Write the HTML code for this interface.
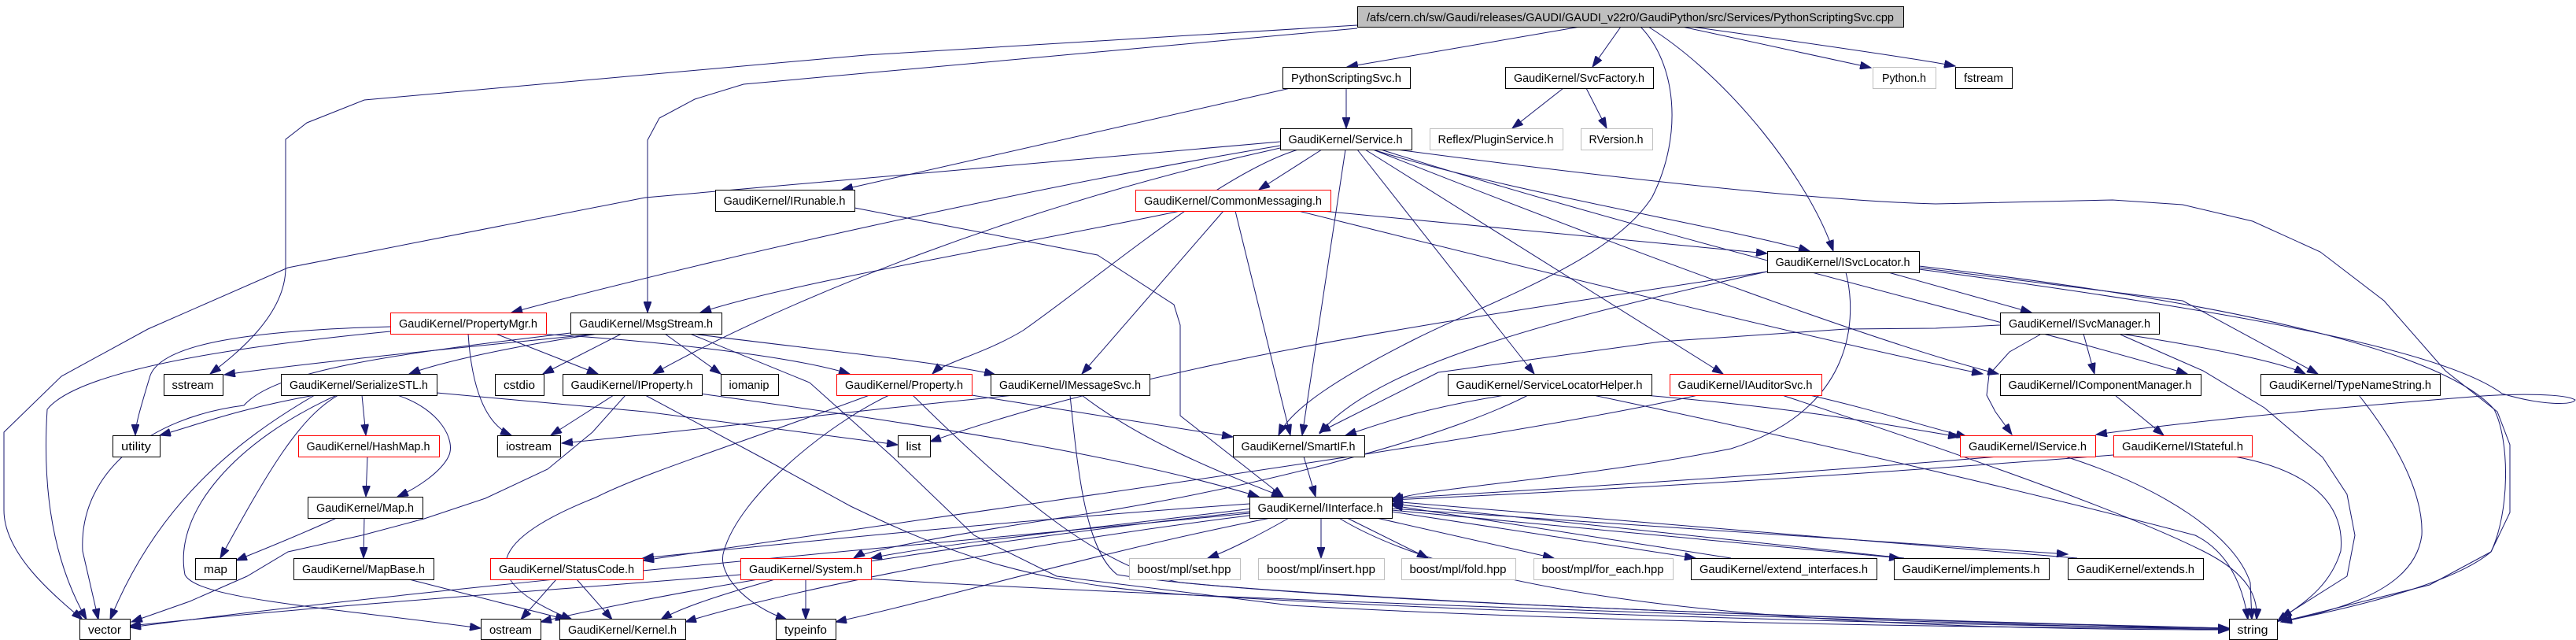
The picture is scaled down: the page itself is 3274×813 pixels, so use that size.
<!DOCTYPE html>
<html><head><meta charset="utf-8"><style>
html,body{margin:0;padding:0;background:#fff;}
svg{display:block;}
text{font-family:"Liberation Sans","DejaVu Sans",sans-serif;font-size:14.5px;fill:#000;}
.e{fill:none;stroke:#191970;stroke-width:1;}
.n{fill:#fff;stroke:#000;stroke-width:1;}
.r{fill:#fff;stroke:#ff0000;stroke-width:1;}
.g{fill:#fff;stroke:#bfbfbf;stroke-width:1;}
</style></head><body>
<svg width="3274" height="813" viewBox="0 0 3274 813" xmlns="http://www.w3.org/2000/svg">
<defs><marker id="a" markerWidth="15" markerHeight="10" refX="14" refY="5" orient="auto" markerUnits="userSpaceOnUse"><path d="M0,0 L14,5 L0,10 z" fill="#191970" stroke="#191970"/></marker></defs>
<g class="e" marker-end="url(#a)">
<path d="M2008,34 L1712,85"/>
<path d="M2060,34 L2024,85"/>
<path d="M2138,34 L2378,86"/>
<path d="M2150,34 C2300,55 2440,75 2485,84"/>
<path d="M1725,32 L1100,70 L463,127 L390,156 L363,177 L363,340 C363,400 300,450 267,475"/>
<path d="M1725,36 L945,107 L883,126 L838,150 L823,178 L823,397"/>
<path d="M2085,34 C2130,80 2140,170 2100,250 C2050,330 1900,380 1800,430 C1700,480 1640,520 1625,553"/>
<path d="M2095,34 C2200,100 2300,230 2330,319"/>
<path d="M1711,112 L1711,163"/>
<path d="M1640,112 L1070,241"/>
<path d="M1987,112 L1922,163"/>
<path d="M2016,112 L2042,163"/>
<path d="M1627,180 L820,251 L366,340 L188,418 L78,478 L5,549 L5,648 C5,700 60,750 105,787"/>
<path d="M1627,185 C1300,240 900,330 650,397"/>
<path d="M1627,188 C1300,260 1000,380 830,475"/>
<path d="M1650,190 C1550,220 1400,350 1300,420 C1250,450 1200,460 1185,475"/>
<path d="M1680,190 L1600,241"/>
<path d="M1710,190 L1655,553"/>
<path d="M1725,190 L1950,475"/>
<path d="M1735,190 L2190,475"/>
<path d="M1745,190 C1900,240 2200,290 2300,319"/>
<path d="M1755,190 C2100,300 2600,420 2780,475"/>
<path d="M1745,190 C2100,330 2400,440 2540,475"/>
<path d="M1760,188 C2000,220 2300,255 2460,259 L2685,254 L2774,260 L2863,281 L2949,320 L3030,382 L3108,471 L3174,523 L3190,565 L3190,651 L3166,701 L3088,743 L2899,790"/>
<path d="M1086,264 L1395,324 L1492,387 L1500,413 L1500,528 L1631,631"/>
<path d="M1500,268 C1300,310 1000,360 890,397"/>
<path d="M1555,268 L1375,475"/>
<path d="M1570,268 L1640,553"/>
<path d="M1680,268 L2246,322"/>
<path d="M1650,268 C1900,330 2300,430 2520,475"/>
<path d="M2246,345 C1900,400 1500,450 1182,561"/>
<path d="M2246,345 C2000,400 1750,460 1677,551"/>
<path d="M2346,346 C2360,400 2360,520 2200,570 C2000,610 1800,620 1769,636"/>
<path d="M2400,346 L2582,397"/>
<path d="M2439,340 L2774,382 L2946,475"/>
<path d="M2439,338 C2800,380 3100,440 3170,520 C3190,560 3190,650 3166,701 C3120,740 3000,770 2899,790"/>
<path d="M2439,342 C2800,390 3100,440 3180,500 C3230,515 3270,515 3273,508 C3260,500 3200,500 3155,503 C2900,523 2750,540 2664,552"/>
<path d="M760,424 C600,440 400,460 285,476"/>
<path d="M496,415 C300,420 200,440 190,480 C178,520 172,540 172,553"/>
<path d="M496,421 C300,440 100,470 60,520 C55,600 60,700 110,787"/>
<path d="M725,423 C500,450 350,470 310,515 C190,530 100,600 105,700 L125,787"/>
<path d="M595,424 C600,500 620,540 650,553"/>
<path d="M630,424 L760,475"/>
<path d="M680,424 C800,430 1000,450 1080,475"/>
<path d="M790,424 L690,475"/>
<path d="M760,424 C650,440 560,460 520,475"/>
<path d="M845,424 L916,475"/>
<path d="M880,424 C1000,440 1200,460 1265,476"/>
<path d="M877,424 L1029,486 L1134,580 L1238,680 L1343,732 L1640,769 C2000,790 2500,797 2833,799"/>
<path d="M2542,413 L2460,417 L2346,418 L2111,434 L1828,473 L1677,549"/>
<path d="M2593,425 L2554,447 L2528,476 L2525,502 L2536,523 L2557,552"/>
<path d="M2648,424 L2662,475"/>
<path d="M2695,424 C2800,440 2900,460 2930,475"/>
<path d="M2695,425 L2800,471 L2878,518 L2952,581 L2983,628 L2993,680 L2983,732 L2899,785"/>
<path d="M400,502 C300,520 250,540 203,553"/>
<path d="M460,502 L465,553"/>
<path d="M505,502 C560,520 580,560 570,580 C560,600 530,620 505,631"/>
<path d="M430,502 C380,530 340,600 280,709"/>
<path d="M400,502 C300,560 200,640 140,787"/>
<path d="M428,502 C300,560 220,650 235,730 C250,760 400,770 611,798"/>
<path d="M555,499 L820,523 L1141,565"/>
<path d="M780,502 L700,553"/>
<path d="M795,502 L753,549 L696,596 L617,633 L539,659 L460,680 L366,701 L314,732 L241,764 L167,790"/>
<path d="M890,500 C1100,530 1400,570 1600,631"/>
<path d="M820,502 L977,586 L1081,643 C1200,700 1300,740 1500,755 C1900,780 2500,795 2833,798"/>
<path d="M1105,502 C950,560 820,600 757,632 C610,690 610,740 727,787"/>
<path d="M1290,502 C1100,520 900,545 714,563"/>
<path d="M1130,502 C1050,540 940,630 920,700 C910,730 950,770 1000,787"/>
<path d="M1160,502 C1300,640 1400,720 1500,740 C1800,770 2500,790 2833,798"/>
<path d="M1235,502 L1567,555"/>
<path d="M1375,502 C1450,560 1550,600 1630,631"/>
<path d="M1360,502 C1370,600 1380,700 1420,730 C1600,760 2400,790 2833,798"/>
<path d="M1913,502 C1800,520 1750,540 1710,553"/>
<path d="M1942,502 C1850,550 1640,610 1400,650 C1200,680 1100,700 1085,709"/>
<path d="M2090,502 C2300,520 2400,540 2490,555"/>
<path d="M2025,502 C2300,560 2600,630 2790,680 C2830,700 2850,740 2857,787"/>
<path d="M2300,502 C2380,520 2440,540 2500,555"/>
<path d="M2265,502 C2500,580 2700,650 2800,700 C2860,730 2870,760 2868,787"/>
<path d="M2158,502 C1900,560 1300,640 817,712"/>
<path d="M2688,502 L2750,553"/>
<path d="M2998,502 C3060,580 3080,640 3078,680 C3070,740 3000,770 2899,790"/>
<path d="M2540,580 C2300,600 2000,620 1769,633"/>
<path d="M2686,578 C2400,600 2100,620 1769,635"/>
<path d="M2625,580 C2750,620 2840,680 2860,740 L2862,787"/>
<path d="M2840,580 C2950,600 2980,650 2975,700 C2960,750 2920,770 2894,790"/>
<path d="M430,657 C380,680 330,700 300,712"/>
<path d="M463,657 L462,709"/>
<path d="M520,736 L720,787"/>
<path d="M467,580 L465,631"/>
<path d="M1657,580 L1672,631"/>
<path d="M1588,640 C1300,660 1000,690 817,709"/>
<path d="M1600,645 C1400,670 1200,690 1107,709"/>
<path d="M1640,657 C1600,680 1560,700 1535,709"/>
<path d="M1679,657 L1679,709"/>
<path d="M1710,657 L1815,709"/>
<path d="M1745,657 L1975,709"/>
<path d="M1769,650 L2155,709"/>
<path d="M2200,709 L1769,642"/>
<path d="M1769,648 L2415,709"/>
<path d="M2420,709 L1769,640"/>
<path d="M1769,646 L2628,704"/>
<path d="M2640,709 L1769,637"/>
<path d="M1620,657 C1400,700 1200,760 1062,790"/>
<path d="M1588,650 C1300,680 900,740 687,790"/>
<path d="M1595,654 C1300,690 1000,750 871,790"/>
<path d="M1588,652 C1200,690 600,740 165,797"/>
<path d="M1700,657 C1900,780 2400,800 2833,800"/>
<path d="M707,736 L662,787"/>
<path d="M733,736 L778,787"/>
<path d="M1024,736 L1024,787"/>
<path d="M985,736 C900,760 860,775 840,787"/>
<path d="M1100,735 C1500,760 2400,790 2833,800"/>
<path d="M941,730 C700,750 400,770 165,795"/>
</g>
<g>
<rect x="1725.5" y="8.5" width="694" height="26" fill="#bfbfbf" stroke="#000"/>
<text x="2072" y="27" text-anchor="middle" textLength="670" lengthAdjust="spacingAndGlyphs">/afs/cern.ch/sw/Gaudi/releases/GAUDI/GAUDI_v22r0/GaudiPython/src/Services/PythonScriptingSvc.cpp</text>
</g>
<g id="nodes">
<rect class="n" x="1630.5" y="85.5" width="162" height="27"/><text x="1711" y="104" text-anchor="middle" textLength="140" lengthAdjust="spacingAndGlyphs">PythonScriptingSvc.h</text>
<rect class="n" x="1913.5" y="85.5" width="188" height="27"/><text x="2007" y="104" text-anchor="middle" textLength="166" lengthAdjust="spacingAndGlyphs">GaudiKernel/SvcFactory.h</text>
<rect class="g" x="2380.5" y="85.5" width="80" height="27"/><text x="2420" y="104" text-anchor="middle" textLength="56" lengthAdjust="spacingAndGlyphs">Python.h</text>
<rect class="n" x="2485.5" y="85.5" width="72" height="27"/><text x="2521" y="104" text-anchor="middle" textLength="50" lengthAdjust="spacingAndGlyphs">fstream</text>
<rect class="n" x="1627.5" y="163.5" width="167" height="27"/><text x="1710" y="182" text-anchor="middle" textLength="145" lengthAdjust="spacingAndGlyphs">GaudiKernel/Service.h</text>
<rect class="g" x="1817.5" y="163.5" width="169" height="27"/><text x="1901" y="182" text-anchor="middle" textLength="147" lengthAdjust="spacingAndGlyphs">Reflex/PluginService.h</text>
<rect class="g" x="2009.5" y="163.5" width="91" height="27"/><text x="2054" y="182" text-anchor="middle" textLength="69" lengthAdjust="spacingAndGlyphs">RVersion.h</text>
<rect class="n" x="909.5" y="241.5" width="177" height="27"/><text x="997" y="260" text-anchor="middle" textLength="155" lengthAdjust="spacingAndGlyphs">GaudiKernel/IRunable.h</text>
<rect class="r" x="1443.5" y="241.5" width="248" height="27"/><text x="1567" y="260" text-anchor="middle" textLength="226" lengthAdjust="spacingAndGlyphs">GaudiKernel/CommonMessaging.h</text>
<rect class="n" x="2246.5" y="319.5" width="193" height="27"/><text x="2342" y="338" text-anchor="middle" textLength="171" lengthAdjust="spacingAndGlyphs">GaudiKernel/ISvcLocator.h</text>
<rect class="r" x="496.5" y="397.5" width="198" height="27"/><text x="595" y="416" text-anchor="middle" textLength="176" lengthAdjust="spacingAndGlyphs">GaudiKernel/PropertyMgr.h</text>
<rect class="n" x="725.5" y="397.5" width="192" height="27"/><text x="821" y="416" text-anchor="middle" textLength="170" lengthAdjust="spacingAndGlyphs">GaudiKernel/MsgStream.h</text>
<rect class="n" x="2542.5" y="397.5" width="202" height="27"/><text x="2643" y="416" text-anchor="middle" textLength="180" lengthAdjust="spacingAndGlyphs">GaudiKernel/ISvcManager.h</text>
<rect class="n" x="208.5" y="475.5" width="75" height="27"/><text x="245" y="494" text-anchor="middle" textLength="53" lengthAdjust="spacingAndGlyphs">sstream</text>
<rect class="n" x="357.5" y="475.5" width="198" height="27"/><text x="456" y="494" text-anchor="middle" textLength="176" lengthAdjust="spacingAndGlyphs">GaudiKernel/SerializeSTL.h</text>
<rect class="n" x="629.5" y="475.5" width="62" height="27"/><text x="660" y="494" text-anchor="middle" textLength="40" lengthAdjust="spacingAndGlyphs">cstdio</text>
<rect class="n" x="715.5" y="475.5" width="177" height="27"/><text x="803" y="494" text-anchor="middle" textLength="155" lengthAdjust="spacingAndGlyphs">GaudiKernel/IProperty.h</text>
<rect class="n" x="916.5" y="475.5" width="73" height="27"/><text x="952" y="494" text-anchor="middle" textLength="51" lengthAdjust="spacingAndGlyphs">iomanip</text>
<rect class="r" x="1063.5" y="475.5" width="172" height="27"/><text x="1149" y="494" text-anchor="middle" textLength="150" lengthAdjust="spacingAndGlyphs">GaudiKernel/Property.h</text>
<rect class="n" x="1259.5" y="475.5" width="202" height="27"/><text x="1360" y="494" text-anchor="middle" textLength="180" lengthAdjust="spacingAndGlyphs">GaudiKernel/IMessageSvc.h</text>
<rect class="n" x="1840.5" y="475.5" width="259" height="27"/><text x="1969" y="494" text-anchor="middle" textLength="237" lengthAdjust="spacingAndGlyphs">GaudiKernel/ServiceLocatorHelper.h</text>
<rect class="r" x="2122.5" y="475.5" width="193" height="27"/><text x="2218" y="494" text-anchor="middle" textLength="171" lengthAdjust="spacingAndGlyphs">GaudiKernel/IAuditorSvc.h</text>
<rect class="n" x="2542.5" y="475.5" width="255" height="27"/><text x="2669" y="494" text-anchor="middle" textLength="233" lengthAdjust="spacingAndGlyphs">GaudiKernel/IComponentManager.h</text>
<rect class="n" x="2873.5" y="475.5" width="228" height="27"/><text x="2987" y="494" text-anchor="middle" textLength="206" lengthAdjust="spacingAndGlyphs">GaudiKernel/TypeNameString.h</text>
<rect class="n" x="143.5" y="553.5" width="60" height="27"/><text x="173" y="572" text-anchor="middle" textLength="38" lengthAdjust="spacingAndGlyphs">utility</text>
<rect class="r" x="379.5" y="553.5" width="179" height="27"/><text x="468" y="572" text-anchor="middle" textLength="157" lengthAdjust="spacingAndGlyphs">GaudiKernel/HashMap.h</text>
<rect class="n" x="632.5" y="553.5" width="80" height="27"/><text x="672" y="572" text-anchor="middle" textLength="58" lengthAdjust="spacingAndGlyphs">iostream</text>
<rect class="n" x="1141.5" y="553.5" width="41" height="27"/><text x="1161" y="572" text-anchor="middle" textLength="19" lengthAdjust="spacingAndGlyphs">list</text>
<rect class="n" x="1567.5" y="553.5" width="167" height="27"/><text x="1650" y="572" text-anchor="middle" textLength="145" lengthAdjust="spacingAndGlyphs">GaudiKernel/SmartIF.h</text>
<rect class="r" x="2491.5" y="553.5" width="172" height="27"/><text x="2577" y="572" text-anchor="middle" textLength="150" lengthAdjust="spacingAndGlyphs">GaudiKernel/IService.h</text>
<rect class="r" x="2686.5" y="553.5" width="176" height="27"/><text x="2774" y="572" text-anchor="middle" textLength="154" lengthAdjust="spacingAndGlyphs">GaudiKernel/IStateful.h</text>
<rect class="n" x="391.5" y="631.5" width="146" height="27"/><text x="464" y="650" text-anchor="middle" textLength="124" lengthAdjust="spacingAndGlyphs">GaudiKernel/Map.h</text>
<rect class="n" x="1588.5" y="631.5" width="181" height="27"/><text x="1678" y="650" text-anchor="middle" textLength="159" lengthAdjust="spacingAndGlyphs">GaudiKernel/IInterface.h</text>
<rect class="n" x="248.5" y="709.5" width="52" height="27"/><text x="274" y="728" text-anchor="middle" textLength="30" lengthAdjust="spacingAndGlyphs">map</text>
<rect class="n" x="373.5" y="709.5" width="178" height="27"/><text x="462" y="728" text-anchor="middle" textLength="156" lengthAdjust="spacingAndGlyphs">GaudiKernel/MapBase.h</text>
<rect class="r" x="623.5" y="709.5" width="194" height="27"/><text x="720" y="728" text-anchor="middle" textLength="172" lengthAdjust="spacingAndGlyphs">GaudiKernel/StatusCode.h</text>
<rect class="r" x="941.5" y="709.5" width="166" height="27"/><text x="1024" y="728" text-anchor="middle" textLength="144" lengthAdjust="spacingAndGlyphs">GaudiKernel/System.h</text>
<rect class="g" x="1435.5" y="709.5" width="141" height="27"/><text x="1505" y="728" text-anchor="middle" textLength="119" lengthAdjust="spacingAndGlyphs">boost/mpl/set.hpp</text>
<rect class="g" x="1599.5" y="709.5" width="160" height="27"/><text x="1679" y="728" text-anchor="middle" textLength="138" lengthAdjust="spacingAndGlyphs">boost/mpl/insert.hpp</text>
<rect class="g" x="1781.5" y="709.5" width="145" height="27"/><text x="1853" y="728" text-anchor="middle" textLength="123" lengthAdjust="spacingAndGlyphs">boost/mpl/fold.hpp</text>
<rect class="g" x="1949.5" y="709.5" width="177" height="27"/><text x="2037" y="728" text-anchor="middle" textLength="155" lengthAdjust="spacingAndGlyphs">boost/mpl/for_each.hpp</text>
<rect class="n" x="2149.5" y="709.5" width="236" height="27"/><text x="2267" y="728" text-anchor="middle" textLength="214" lengthAdjust="spacingAndGlyphs">GaudiKernel/extend_interfaces.h</text>
<rect class="n" x="2407.5" y="709.5" width="197" height="27"/><text x="2505" y="728" text-anchor="middle" textLength="175" lengthAdjust="spacingAndGlyphs">GaudiKernel/implements.h</text>
<rect class="n" x="2628.5" y="709.5" width="172" height="27"/><text x="2714" y="728" text-anchor="middle" textLength="150" lengthAdjust="spacingAndGlyphs">GaudiKernel/extends.h</text>
<rect class="n" x="101.5" y="786.5" width="64" height="26"/><text x="133" y="805" text-anchor="middle" textLength="42" lengthAdjust="spacingAndGlyphs">vector</text>
<rect class="n" x="611.5" y="786.5" width="76" height="26"/><text x="649" y="805" text-anchor="middle" textLength="54" lengthAdjust="spacingAndGlyphs">ostream</text>
<rect class="n" x="711.5" y="786.5" width="160" height="26"/><text x="791" y="805" text-anchor="middle" textLength="138" lengthAdjust="spacingAndGlyphs">GaudiKernel/Kernel.h</text>
<rect class="n" x="986.5" y="786.5" width="76" height="26"/><text x="1024" y="805" text-anchor="middle" textLength="54" lengthAdjust="spacingAndGlyphs">typeinfo</text>
<rect class="n" x="2833.5" y="786.5" width="61" height="26"/><text x="2863" y="805" text-anchor="middle" textLength="39" lengthAdjust="spacingAndGlyphs">string</text>
</g>
</svg>
</body></html>
